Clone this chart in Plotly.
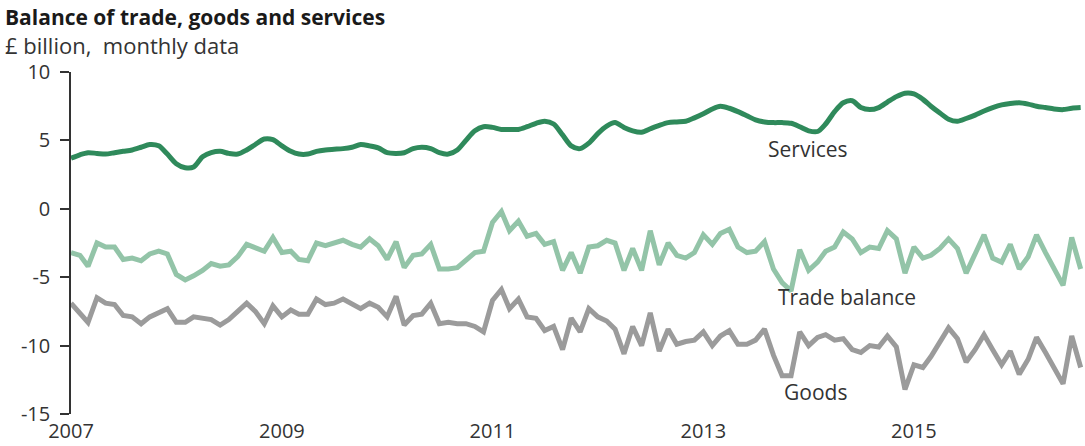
import pandas as pd
import plotly.graph_objects as go

# Monthly data, January 2007 onwards (£ billion)
services = [3.7, 3.95, 4.1, 4.05, 4.0, 4.1, 4.2, 4.3, 4.5, 4.7, 4.6, 4.0,
            3.3, 3.0, 3.05, 3.8, 4.1, 4.2, 4.05, 4.0, 4.3, 4.7, 5.1, 5.05,
            4.6, 4.2, 4.0, 4.0, 4.2, 4.3, 4.35, 4.4, 4.5, 4.7, 4.6, 4.45,
            4.1, 4.05, 4.1, 4.4, 4.5, 4.4, 4.1, 4.0, 4.3, 5.0, 5.7, 6.0,
            5.95, 5.8, 5.8, 5.8, 6.0, 6.25, 6.4, 6.2, 5.4, 4.6, 4.4, 4.8,
            5.5, 6.05, 6.3, 5.95, 5.7, 5.6, 5.85, 6.1, 6.3, 6.35, 6.4, 6.65,
            6.95, 7.3, 7.5, 7.35, 7.1, 6.8, 6.5, 6.35, 6.3, 6.3, 6.25, 6.0,
            5.7, 5.65, 6.2, 7.1, 7.75, 7.9, 7.4, 7.25, 7.4, 7.8, 8.2, 8.45,
            8.4, 8.0, 7.5, 7.0, 6.55, 6.4, 6.6, 6.85, 7.15, 7.4, 7.6, 7.7,
            7.75, 7.65, 7.5, 7.4, 7.3, 7.25, 7.35, 7.4]

trade_balance = [-3.2, -3.4, -4.2, -2.5, -2.8, -2.8, -3.7, -3.6, -3.8, -3.3, -3.1, -3.3,
                 -4.8, -5.2, -4.9, -4.5, -4.0, -4.2, -4.1, -3.5, -2.6, -2.8, -3.1, -2.1,
                 -3.2, -3.1, -3.7, -3.8, -2.5, -2.7, -2.5, -2.3, -2.6, -2.8, -2.2, -2.7,
                 -3.7, -2.4, -4.3, -3.4, -3.3, -2.6, -4.4, -4.4, -4.3, -3.7, -3.2, -3.1,
                 -1.0, -0.2, -1.6, -0.9, -2.0, -1.8, -2.6, -2.4, -4.5, -3.2, -4.7, -2.8,
                 -2.7, -2.3, -2.5, -4.5, -2.9, -4.5, -1.6, -4.1, -2.5, -3.4, -3.6, -3.2,
                 -1.9, -2.6, -1.8, -1.5, -2.8, -3.2, -3.1, -2.4, -4.4, -5.4, -6.0, -3.0,
                 -4.5, -3.9, -3.1, -2.8, -1.7, -2.2, -3.2, -2.8, -2.9, -1.6, -2.2, -4.7,
                 -2.8, -3.6, -3.4, -2.9, -2.2, -2.9, -4.7, -3.3, -1.9, -3.6, -3.9, -2.6,
                 -4.4, -3.5, -1.9, -3.2, -4.3, -5.6, -2.1, -4.4]

goods = [-6.9, -7.6, -8.3, -6.5, -6.9, -7.0, -7.8, -7.9, -8.4, -7.9, -7.6, -7.3,
         -8.3, -8.3, -7.9, -8.0, -8.1, -8.5, -8.1, -7.5, -6.9, -7.5, -8.4, -7.1,
         -7.9, -7.4, -7.7, -7.7, -6.6, -7.0, -6.9, -6.6, -7.0, -7.3, -6.9, -7.2,
         -7.9, -6.4, -8.5, -7.8, -7.7, -6.9, -8.4, -8.3, -8.4, -8.4, -8.6, -9.0,
         -6.7, -5.9, -7.3, -6.6, -7.9, -8.0, -8.9, -8.6, -10.3, -8.0, -9.0, -7.3,
         -7.9, -8.2, -8.8, -10.6, -8.6, -10.0, -7.6, -10.4, -8.8, -9.9, -9.7, -9.6,
         -9.0, -10.0, -9.3, -8.9, -9.9, -9.9, -9.6, -8.8, -10.7, -12.2, -12.2, -9.0,
         -10.0, -9.4, -9.2, -9.6, -9.5, -10.3, -10.5, -10.0, -10.1, -9.3, -10.1, -13.2,
         -11.4, -11.6, -10.8, -9.8, -8.7, -9.5, -11.2, -10.3, -9.2, -10.3, -11.4, -10.4,
         -12.1, -11.0, -9.4, -10.5, -11.6, -12.8, -9.3, -11.6]

y_tickvals = [10, 5, 0, -5, -10, -15]
y_ticktext = ["10", "5", "0", "-5", "-10", "-15"]
x_tick_years = ["2007", "2009", "2011", "2013", "2015"]

months = pd.date_range("2007-01-01", periods=len(goods), freq="MS")

FONT = "Open Sans"
TXT = "#333333"
X_RANGE = ["2007-01-01", "2016-08-16"]

fig = go.Figure()
fig.add_trace(go.Scatter(x=months, y=services, mode="lines", name="Services",
                         line=dict(color="#2f8a5b", width=5, shape="spline", smoothing=0.8)))
fig.add_trace(go.Scatter(x=months, y=trade_balance, mode="lines", name="Trade balance",
                         line=dict(color="#93c4a8", width=5)))
fig.add_trace(go.Scatter(x=months, y=goods, mode="lines", name="Goods",
                         line=dict(color="#9b9b9b", width=5)))

zero_pos = (0 - (-15)) / (10 - (-15))

fig.update_layout(
    width=1085, height=446,
    margin=dict(l=71, r=0, t=72, b=32),
    paper_bgcolor="white", plot_bgcolor="white",
    showlegend=False,
    font=dict(family=FONT, color=TXT, size=20),
    xaxis=dict(
        type="date", range=X_RANGE,
        tickvals=[pd.Timestamp(y + "-01-01") for y in x_tick_years],
        ticktext=x_tick_years, automargin=False,
        showgrid=False, zeroline=False, showline=False, ticks="",
        tickfont=dict(size=20, color=TXT), ticklabelstandoff=3,
    ),
    xaxis2=dict(
        type="date", range=X_RANGE, overlaying="x", anchor="free", position=zero_pos,
        side="bottom", showgrid=False, zeroline=False, showline=True,
        linecolor="#333333", linewidth=1.5, ticks="outside", ticklen=7,
        tickwidth=1.5, tickcolor="#333333", dtick="M12", tick0="2007-01-01",
        showticklabels=False,
    ),
    xaxis3=dict(
        type="date", range=X_RANGE, overlaying="x", anchor="free", position=zero_pos,
        side="bottom", showgrid=False, zeroline=False, showline=False,
        ticks="inside", ticklen=7, tickwidth=1.5, tickcolor="#333333",
        dtick="M12", tick0="2007-01-01", showticklabels=False,
    ),
    yaxis=dict(
        range=[-15, 10], tickvals=y_tickvals, ticktext=y_ticktext,
        showgrid=False, zeroline=False, showline=True, linecolor="#333333",
        linewidth=1.5, ticks="outside", ticklen=9, tickwidth=1.5,
        tickcolor="#333333", tickfont=dict(size=20, color=TXT),
        ticklabelstandoff=6, automargin=False,
    ),
)

# Title and subtitle
fig.add_annotation(text="<b>Balance of trade, goods and services</b>", xref="paper", yref="paper",
                   x=-0.067, y=1.0, yshift=55, xanchor="left", yanchor="middle",
                   showarrow=False, font=dict(size=21, color="#1a1a1a", family=FONT))
fig.add_annotation(text="£ billion,&nbsp; monthly data", xref="paper", yref="paper",
                   x=-0.067, y=1.0, yshift=27, xanchor="left", yanchor="middle",
                   showarrow=False, font=dict(size=22, color=TXT, family=FONT))

# Series labels
fig.add_annotation(text="Services", x=pd.Timestamp("2013-08-05"), y=4.35,
                   xanchor="left", yanchor="middle", showarrow=False,
                   font=dict(size=21, color=TXT))
fig.add_annotation(text="Trade balance", x=pd.Timestamp("2013-09-10"), y=-6.45,
                   xanchor="left", yanchor="middle", showarrow=False,
                   font=dict(size=21, color=TXT))
fig.add_annotation(text="Goods", x=pd.Timestamp("2013-10-01"), y=-13.4,
                   xanchor="left", yanchor="middle", showarrow=False,
                   font=dict(size=21, color=TXT))

fig.write_html("out.html")
